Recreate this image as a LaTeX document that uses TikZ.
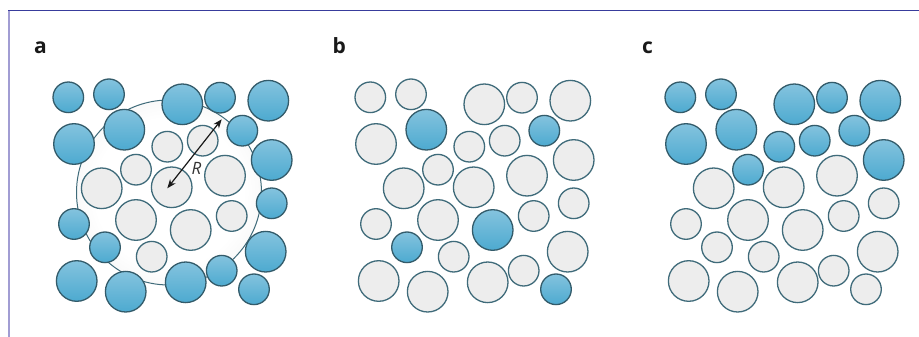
\documentclass[tikz,border=0pt]{standalone}
\usepackage{fontspec}
\setmainfont{Open Sans}
\usetikzlibrary{arrows.meta}
\definecolor{blueTop}{HTML}{84C3DE}
\definecolor{blueBot}{HTML}{4DAAD0}
\definecolor{blueEdge}{HTML}{335B6A}
\definecolor{grayFill}{HTML}{EDEDED}
\definecolor{grayEdge}{HTML}{3F6B7A}
\definecolor{frameTop}{HTML}{383C9C}
\definecolor{frameLeft}{HTML}{A19DD3}
\definecolor{rimGray}{HTML}{DEDEDE}
\pgfdeclareradialshading{glow}{\pgfpoint{0bp}{0bp}}{color(0bp)=(white); color(20bp)=(white); color(50bp)=(rimGray)}
\tikzset{
  ball/.style={circle, inner sep=0pt, line width=1.3pt},
  blueball/.style={ball, draw=blueEdge, top color=blueTop, bottom color=blueBot},
  grayball/.style={ball, draw=grayEdge, fill=grayFill},
  panellabel/.style={anchor=base west, inner sep=0pt, text=black!90, font=\fontsize{21}{21}\selectfont\bfseries},
}
\newcommand\drawpanel[3]{%
  \foreach \cx/\cy/\cr [count=\i] in {
    68.3/97.3/15.3, 109/94.3/15.3, 182.3/104.3/20.3, 220/97.7/15.3, 268.3/100.7/20.3,
    74/144/20.3, 124.3/129.7/20.3, 167.3/146.7/15.3, 202.7/140.7/15.3, 242.3/130.7/15.3,
    271.7/160/20.3, 136/169.7/15.3, 101.7/188.3/20.3, 171.7/187.3/20.3, 225/175.7/20.3,
    271.7/203.3/15.3, 74/224/15.3, 136/220/20.3, 190.7/230/20.3, 231.7/216/15.3,
    105/247.3/15.3, 151.7/256.7/15.3, 265.7/251.7/20.3, 76.7/281/20.3, 125.7/291.7/20.3,
    185.7/282.3/20.3, 221.7/270.7/15.3, 254/289.3/15.3}
  {
    \pgfmathtruncatemacro\flag{#3[\i-1]}
    \ifnum\flag=1
      \node[blueball, minimum size=2*\cr] (#1c\i) at (\cx+#2,\cy) {};
    \else
      \node[grayball, minimum size=2*\cr] (#1c\i) at (\cx+#2,\cy) {};
    \fi
  }%
}
\begin{document}
\begin{tikzpicture}[x=1pt,y=-1pt]
\useasboundingbox (0,0) rectangle (919,337);
\fill[white] (0,0) rectangle (919,337);
% frame
\draw[frameLeft, line width=1.8pt] (8.6,10.3) -- (8.6,337);
\draw[frameTop, line width=1.5pt] (8,10.3) -- (919,10.3);
% labels
\node[panellabel] (la) at (34,53.5) {a};
\node[panellabel] (lb) at (332.5,53.5) {b};
\node[panellabel] (lc) at (642,53.5) {c};
% big region in panel a
\node[circle, inner sep=0pt, minimum size=185pt, draw=grayEdge, line width=1pt, shading=glow] (region) at (169,192.5) {};
\drawpanel{a}{0}{{1,1,1,1,1,1,1,0,0,1,1,0,0,0,0,1,1,0,0,0,1,0,1,1,1,1,1,1}}
\drawpanel{b}{302}{{0,0,0,0,0,0,1,0,0,1,0,0,0,0,0,0,0,0,1,0,1,0,0,0,0,0,0,1}}
\drawpanel{c}{612}{{1,1,1,1,1,1,1,1,1,1,1,1,0,0,0,0,0,0,0,0,0,0,0,0,0,0,0,0}}
% radius arrow
\coordinate (Rin) at (167.3,188.3);
\coordinate (Rout) at (221.7,119.3);
\draw[{Stealth[length=9pt,width=7pt]}-{Stealth[length=9pt,width=7pt]}, line width=1.2pt, black!90] (Rin) -- (Rout);
\node[font=\fontsize{17}{17}\selectfont\itshape, text=black!80, inner sep=0pt] (Rlab) at (196.5,168.3) {R};
\end{tikzpicture}
\end{document}
